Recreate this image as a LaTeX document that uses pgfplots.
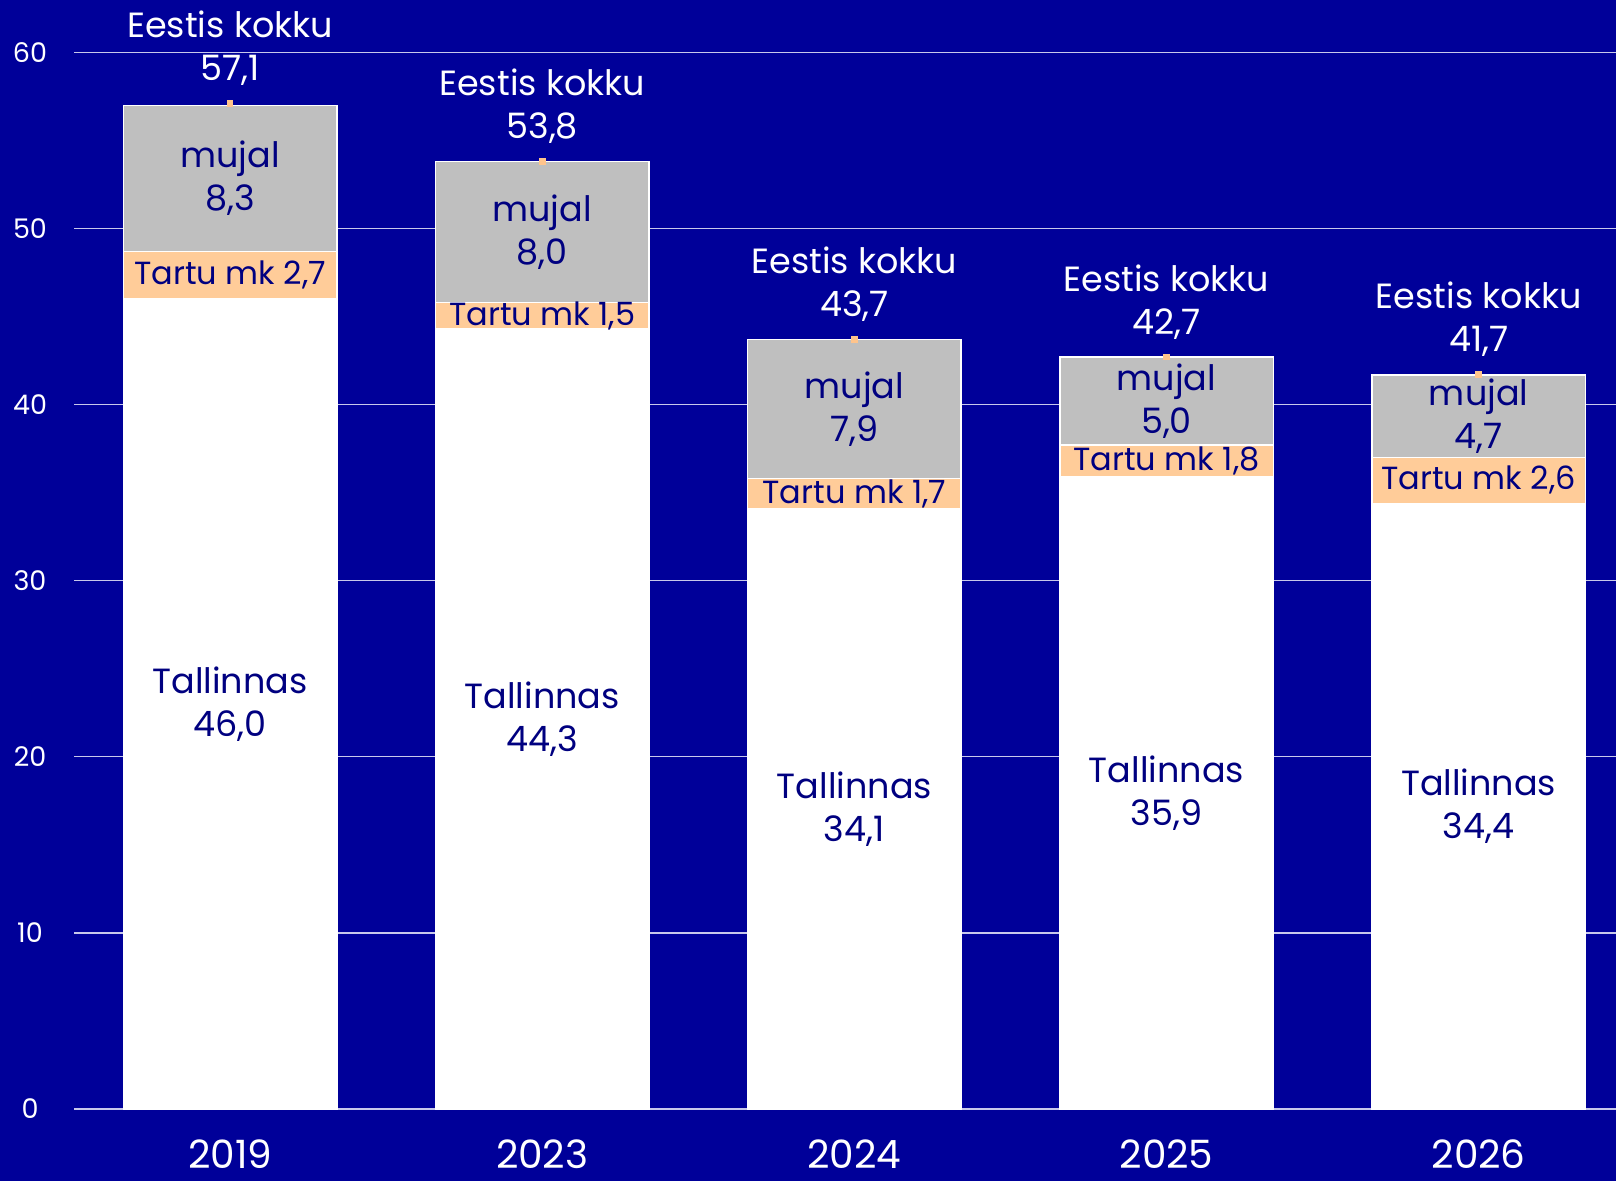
\documentclass[border=0pt]{standalone}
\usepackage{pgfplots}
\pgfplotsset{compat=1.18}
\usepackage{fontspec}
\setmainfont{Poppins}
\definecolor{bg}{RGB}{0,0,153}
\definecolor{navy}{RGB}{0,0,128}
\definecolor{peach}{RGB}{255,204,153}
\definecolor{mark}{RGB}{255,196,140}
\definecolor{gray1}{RGB}{191,191,191}
\definecolor{gridc}{RGB}{200,200,235}
\begin{document}
\begin{tikzpicture}
\path[use as bounding box, fill=bg] (-37pt,-36pt) rectangle (771pt,554.5pt);
\pgfplotsset{base/.style={scale only axis, width=771pt, height=528.2pt,
  xmin=-0.5, xmax=4.44, ymin=0, ymax=60, clip=false,
  /pgf/number format/assume math mode=true}}
\begin{axis}[base, ybar stacked, bar width=0.684,
  axis line style={draw=none}, major tick length=0pt,
  ymajorgrids, grid style={gridc, line width=0.6pt},
  ytick={0,10,...,60}, xtick={0,...,4},
  xticklabels={2019,2023,2024,2025,2026},
  tick label style={white},
  yticklabel style={font=\fontsize{13.5}{15}\selectfont, anchor=center, xshift=-22pt},
  xticklabel style={font=\fontsize{19.5}{22}\selectfont, anchor=center, yshift=-22.5pt},
  every axis plot/.append style={draw=white, line width=0.75pt}]
\addplot[fill=white] coordinates {(0,46.0) (1,44.3) (2,34.1) (3,35.9) (4,34.4)};
\addplot[fill=peach] coordinates {(0,2.7) (1,1.5) (2,1.7) (3,1.8) (4,2.6)};
\addplot[fill=gray1] coordinates {(0,8.3) (1,8.0) (2,7.9) (3,5.0) (4,4.7)};
\end{axis}
\begin{axis}[base, hide axis]
\addplot[color=mark, only marks, mark=square*, mark size=1.4pt, mark options={solid, draw=mark, fill=mark, line width=0pt},
  /pgf/number format/use comma, /pgf/number format/fixed,
  /pgf/number format/fixed zerofill, /pgf/number format/precision=1,
  nodes near coords={Eestis kokku\\\pgfmathprintnumber{\pgfplotspointmeta}},
  nodes near coords style={white, align=center, anchor=south, inner sep=0pt, yshift=9pt,
    font=\fontsize{17.5}{21.5}\selectfont}]
  coordinates {(0,57.1) (1,53.8) (2,43.7) (3,42.7) (4,41.7)};
\addplot[only marks, mark=none, point meta=explicit symbolic, nodes near coords,
  nodes near coords style={navy, align=center, anchor=center, inner sep=0pt,
    font=\fontsize{17.5}{21.5}\selectfont}]
  table[meta=lab] {
x y lab
0 23.0 {Tallinnas\\46,0}
1 22.15 {Tallinnas\\44,3}
2 17.05 {Tallinnas\\34,1}
3 17.95 {Tallinnas\\35,9}
4 17.2 {Tallinnas\\34,4}
0 52.85 {mujal\\8,3}
1 49.8 {mujal\\8,0}
2 39.75 {mujal\\7,9}
3 40.2 {mujal\\5,0}
4 39.35 {mujal\\4,7}
};
\addplot[only marks, mark=none, point meta=explicit symbolic, nodes near coords,
  nodes near coords style={navy, anchor=center, inner sep=0pt,
    font=\fontsize{16}{19}\selectfont}]
  table[meta=lab] {
x y lab
0 47.35 {Tartu mk 2,7}
1 45.05 {Tartu mk 1,5}
2 34.95 {Tartu mk 1,7}
3 36.8 {Tartu mk 1,8}
4 35.7 {Tartu mk 2,6}
};
\end{axis}
\end{tikzpicture}
\end{document}
